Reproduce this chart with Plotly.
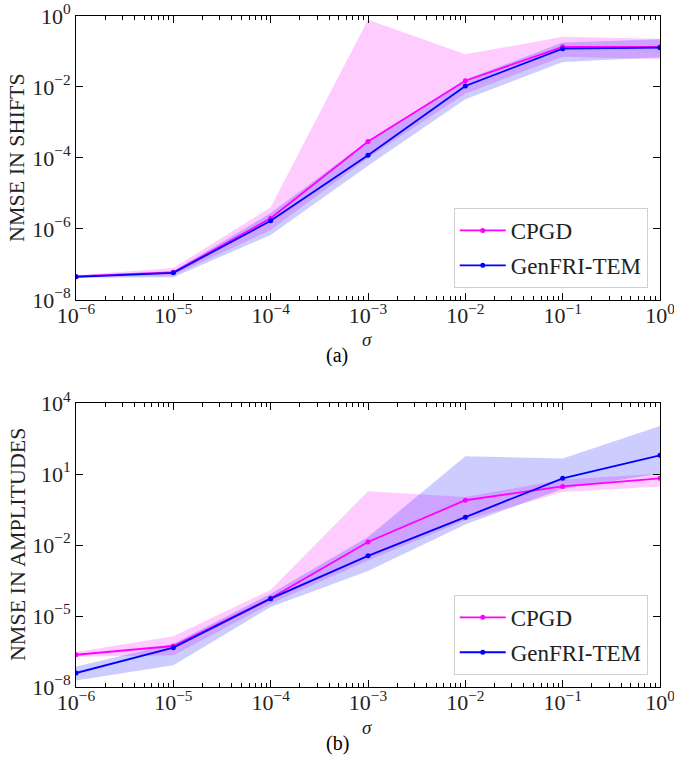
import plotly.graph_objects as go
from plotly.subplots import make_subplots

sigma = [1e-6, 1e-5, 1e-4, 1e-3, 1e-2, 1e-1, 1.0]

# (a) NMSE in shifts
shifts_cpgd = [4.6e-8, 6.0e-8, 2.0e-6, 2.9e-4, 1.5e-2, 0.135, 0.135]
shifts_cpgd_hi = [5.0e-8, 7.9e-8, 4.1e-6, 0.78, 0.083, 0.26, 0.23]
shifts_cpgd_lo = [4.4e-8, 5.0e-8, 9.3e-7, 1.0e-4, 6.6e-3, 0.071, 0.060]
shifts_gen = [4.5e-8, 5.8e-8, 1.7e-6, 1.2e-4, 1.07e-2, 0.12, 0.128]
shifts_gen_hi = [4.9e-8, 6.5e-8, 2.8e-6, 3.0e-4, 1.6e-2, 0.18, 0.22]
shifts_gen_lo = [4.2e-8, 4.4e-8, 6.8e-7, 6.0e-5, 4.5e-3, 0.051, 0.069]

# (b) NMSE in amplitudes
amp_cpgd = [2.3e-7, 5.4e-7, 5.6e-5, 1.35e-2, 0.78, 3.0, 6.6]
amp_cpgd_hi = [3.0e-7, 1.4e-6, 1.3e-4, 1.86, 1.07, 5.8, 10.2]
amp_cpgd_lo = [1.9e-7, 2.2e-7, 3.3e-5, 2.2e-3, 0.11, 1.74, 3.0]
amp_gen = [3.9e-8, 4.6e-7, 5.4e-5, 3.5e-3, 0.15, 6.6, 62]
amp_gen_hi = [7.4e-8, 6.8e-7, 8.7e-5, 0.022, 56, 45, 1070]
amp_gen_lo = [1.9e-8, 8.3e-8, 2.4e-5, 7.9e-4, 0.074, 2.4, 10.2]

x_ticks = [1e-6, 1e-5, 1e-4, 1e-3, 1e-2, 1e-1, 1]
x_ticktext = ["10<sup>−6</sup>", "10<sup>−5</sup>", "10<sup>−4</sup>", "10<sup>−3</sup>",
              "10<sup>−2</sup>", "10<sup>−1</sup>", "10<sup>0</sup>"]
ya_ticks = [1e-8, 1e-6, 1e-4, 1e-2, 1]
ya_ticktext = ["10<sup>−8</sup>", "10<sup>−6</sup>", "10<sup>−4</sup>", "10<sup>−2</sup>", "10<sup>0</sup>"]
yb_ticks = [1e-8, 1e-5, 1e-2, 1e1, 1e4]
yb_ticktext = ["10<sup>−8</sup>", "10<sup>−5</sup>", "10<sup>−2</sup>", "10<sup>1</sup>", "10<sup>4</sup>"]

names = ["CPGD", "GenFRI-TEM"]
line_colors = ["#ff00ff", "#0000ff"]
fill_colors = ["rgba(255,0,255,0.2)", "rgba(0,0,255,0.2)"]

FONT = "Liberation Serif"

fig = make_subplots(rows=2, cols=1, vertical_spacing=0.1536)

panels = [
    (1, "legend", [shifts_cpgd, shifts_gen], [shifts_cpgd_hi, shifts_gen_hi], [shifts_cpgd_lo, shifts_gen_lo]),
    (2, "legend2", [amp_cpgd, amp_gen], [amp_cpgd_hi, amp_gen_hi], [amp_cpgd_lo, amp_gen_lo]),
]

for row, leg, means, his, los in panels:
    for i in range(2):
        fig.add_trace(go.Scatter(x=sigma, y=his[i], mode="lines", line=dict(width=0),
                                 showlegend=False, hoverinfo="skip"), row=row, col=1)
        fig.add_trace(go.Scatter(x=sigma, y=los[i], mode="lines", line=dict(width=0),
                                 fill="tonexty", fillcolor=fill_colors[i],
                                 showlegend=False, hoverinfo="skip"), row=row, col=1)
    for i in range(2):
        fig.add_trace(go.Scatter(x=sigma, y=means[i], mode="lines+markers", name=names[i],
                                 line=dict(color=line_colors[i], width=1.8),
                                 marker=dict(color=line_colors[i], size=5),
                                 legend=leg, legendgroup=f"{leg}{i}"), row=row, col=1)

axis_common = dict(type="log", automargin=False, showgrid=False, zeroline=False, showline=True,
                   linecolor="black", linewidth=1, mirror="allticks", ticks="inside", ticklen=7,
                   tickwidth=1, tickcolor="black", ticklabeloverflow="allow",
                   tickfont=dict(family=FONT, size=22, color="#222"))

for r in (1, 2):
    fig.update_xaxes(axis_common, range=[-6, 0], tickvals=x_ticks, ticktext=x_ticktext,
                     ticklabelstandoff=-4,
                     minor=dict(ticks="inside", ticklen=4, tickcolor="black",
                                tickvals=[k * 10 ** e for e in range(-6, 0) for k in range(2, 10)]),
                     row=r, col=1)
fig.update_yaxes(axis_common, range=[-8, 0], tickvals=ya_ticks, ticktext=ya_ticktext, row=1, col=1)
fig.update_yaxes(axis_common, range=[-8, 4], tickvals=yb_ticks, ticktext=yb_ticktext, row=2, col=1)

fig.update_yaxes(domain=[0.5768, 1.0], row=1, col=1)
fig.update_yaxes(domain=[0.0, 0.4232], row=2, col=1)

legend_style = dict(font=dict(family=FONT, size=23, color="#222"), bgcolor="white",
                    bordercolor="#d0d0d0", borderwidth=1, xanchor="right", yanchor="bottom",
                    x=0.979, itemwidth=46, tracegroupgap=2)

ann = []
for yc, label in [(0.7884, "NMSE IN SHIFTS"), (0.2116, "NMSE IN AMPLITUDES")]:
    ann.append(dict(x=0, y=yc, xref="paper", yref="paper", text=label, textangle=-90,
                    showarrow=False, xanchor="center", yanchor="middle", xshift=-59,
                    font=dict(family=FONT, size=22, color="#222")))
for yp, cap in [(0.5768, "(a)"), (0.0, "(b)")]:
    ann.append(dict(x=0.5, y=yp, xref="paper", yref="paper", text="<i>σ</i>", showarrow=False,
                    xanchor="center", yanchor="middle", xshift=-1, yshift=-40,
                    font=dict(family=FONT, size=19, color="#222")))
    ann.append(dict(x=0.5, y=yp, xref="paper", yref="paper", text=cap, showarrow=False,
                    xanchor="center", yanchor="middle", xshift=-31, yshift=-56,
                    font=dict(family=FONT, size=20, color="black")))

fig.update_layout(
    width=674, height=758,
    margin=dict(l=76, r=14, t=16, b=71, autoexpand=False),
    plot_bgcolor="white", paper_bgcolor="white",
    legend=dict(legend_style, y=0.5946),
    legend2=dict(legend_style, y=0.018),
    annotations=ann,
    font=dict(family=FONT),
)

fig.write_html("out.html", config={"displayModeBar": False},
               post_script="document.body.style.margin='0px';")
